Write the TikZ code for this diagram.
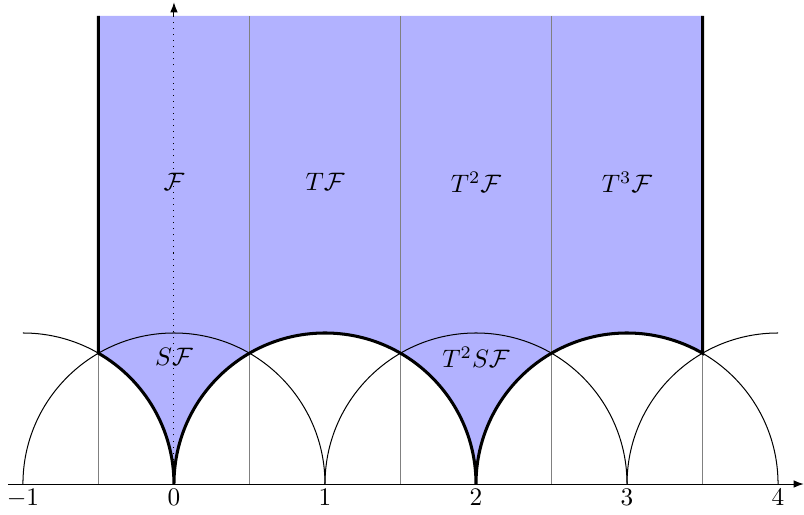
\documentclass[tikz,border=0pt]{standalone}
\usepackage{amsmath,amssymb}
\usetikzlibrary{arrows.meta}

\begin{document}
\begin{tikzpicture}[
    x=2.1cm, y=2.1cm,
    fundregion/.style={fill=blue!30},
    strip/.style={gray, thin},
    circ/.style={thin},
    edge/.style={very thick},
    axis/.style={-{Latex[length=1.4mm]}, thin}
]
\useasboundingbox (-1.152,-0.205) rectangle (4.172,3.205);

% fundamental domain and its translates
\fill[fundregion] (-0.5,3.1) -- (-0.5,{sqrt(3)/2})
    arc[start angle=60, end angle=0, radius=1]
    arc[start angle=180, end angle=0, radius=1]
    arc[start angle=180, end angle=60, radius=1]
    -- (3.5,3.1) -- cycle;

% vertical strips
\foreach \x in {-0.5,0.5,1.5,2.5,3.5}
    \draw[strip] (\x,0) -- (\x,3.1);

% unit circles
\draw[circ] (-1,1) arc[start angle=90, end angle=0, radius=1];
\foreach \c in {0,1,2,3}
    \draw[circ] (\c-1,0) arc[start angle=180, end angle=0, radius=1];
\draw[circ] (3,0) arc[start angle=180, end angle=90, radius=1];

% boundary
\draw[edge] (-0.5,3.1) -- (-0.5,{sqrt(3)/2})
    arc[start angle=60, end angle=0, radius=1]
    arc[start angle=180, end angle=0, radius=1]
    arc[start angle=180, end angle=60, radius=1]
    -- (3.5,3.1);

% axes
\coordinate (xstart) at (-1.1,0);
\coordinate (xend) at (4.17,0);
\coordinate (origin) at (0,0);
\coordinate (ytop) at (0,3.19);
\draw[axis] (xstart) -- (xend);
\draw[dotted] (origin) -- (0,3.1);
\draw[axis] (0,3.1) -- (ytop);
\foreach \x in {-1,0,1,2,3,4}
    \node[below, inner sep=2pt] (tick\x) at (\x,0) {$\x$};

% labels
\node (F) at (0,2) {$\mathcal{F}$};
\node (TF) at (1,2) {$T\mathcal{F}$};
\node (T2F) at (2,2) {$T^2\mathcal{F}$};
\node (T3F) at (3,2) {$T^3\mathcal{F}$};
\node (SF) at (0,0.84) {$S\mathcal{F}$};
\node (T2SF) at (2,0.84) {$T^2S\mathcal{F}$};

\end{tikzpicture}
\end{document}
